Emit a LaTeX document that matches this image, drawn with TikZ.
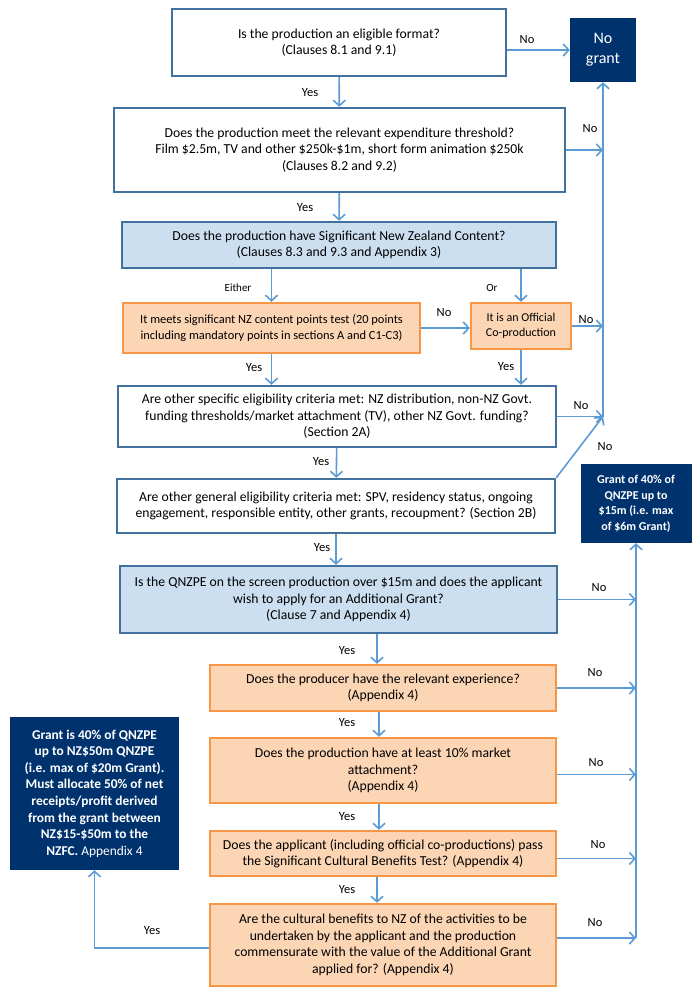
\documentclass[tikz,border=0pt]{standalone}
\usepackage{fontspec}
\setmainfont{Carlito}
\usetikzlibrary{arrows.meta}

\definecolor{boxline}{HTML}{41719C}
\definecolor{arrowblue}{HTML}{5B9BD5}
\definecolor{paleblue}{HTML}{CCDFF1}
\definecolor{peach}{HTML}{FCD5B5}
\definecolor{orangeline}{HTML}{F79646}
\definecolor{navy}{HTML}{00336E}

\begin{document}
\begin{tikzpicture}[x=1pt, y=-1pt,
    qbox/.style={draw=boxline, line width=2.4pt, fill=white, align=center, inner sep=2pt,
        font=\fontsize{13.7}{16.5}\selectfont},
    bluebox/.style={qbox, fill=paleblue},
    orangebox/.style={qbox, draw=orangeline, fill=peach},
    navybox/.style={fill=navy, text=white, align=center, inner sep=2pt},
    arr/.style={draw=arrowblue, line width=1.6pt, -{Straight Barb[length=5.5pt,width=12pt]}},
    lbl/.style={font=\fontsize{12.5}{14}\selectfont, inner sep=0pt},
    small/.style={font=\fontsize{11}{13}\selectfont, inner sep=0pt}]
    \useasboundingbox (0,0) rectangle (700,1000);

    % question boxes
    \node[qbox, minimum width=334, minimum height=67] (q1) at (339,42.5)
        {Is the production an eligible format?\\(Clauses 8.1 and 9.1)};
    \node[qbox, minimum width=451, minimum height=84] (q2) at (339.5,150)
        {Does the production meet the relevant expenditure threshold?\\Film \$2.5m, TV and other \$250k-\$1m, short form animation \$250k\\(Clauses 8.2 and 9.2)};
    \node[bluebox, minimum width=434, minimum height=46] (q3) at (339,245)
        {Does the production have Significant New Zealand Content?\\(Clauses 8.3 and 9.3 and Appendix 3)};
    \node[orangebox, minimum width=297, minimum height=50, font=\fontsize{12.4}{15.5}\selectfont] (qa) at (271.5,328)
        {It meets significant NZ content points test (20 points\\including mandatory points in sections A and C1-C3)};
    \node[orangebox, minimum width=100, minimum height=46, font=\fontsize{12}{15}\selectfont] (qb) at (521,326)
        {It is an Official\\Co-production};
    \node[qbox, minimum width=438, minimum height=61] (q4) at (337,416.5)
        {Are other specific eligibility criteria met: NZ distribution, non-NZ Govt.\\funding thresholds/market attachment (TV), other NZ Govt. funding?\\(Section 2A)};
    \node[qbox, minimum width=438, minimum height=54] (q5) at (336,506)
        {Are other general eligibility criteria met: SPV, residency status, ongoing\\engagement, responsible entity, other grants, recoupment? (Section 2B)};
    \node[bluebox, minimum width=437, minimum height=67] (q6) at (338.5,599.5)
        {Is the QNZPE on the screen production over \$15m and does the applicant\\wish to apply for an Additional Grant?\\(Clause 7 and Appendix 4)};
    \node[orangebox, minimum width=346, minimum height=46] (q7) at (383,688)
        {Does the producer have the relevant experience?\\(Appendix 4)};
    \node[orangebox, minimum width=346, minimum height=65] (q8) at (383,770.5)
        {Does the production have at least 10\% market\\attachment?\\(Appendix 4)};
    \node[orangebox, minimum width=346, minimum height=45] (q9) at (383,853.5)
        {Does the applicant (including official co-productions) pass\\the Significant Cultural Benefits Test? (Appendix 4)};
    \node[orangebox, minimum width=346, minimum height=82] (q10) at (383,945)
        {Are the cultural benefits to NZ of the activities to be\\undertaken by the applicant and the production\\commensurate with the value of the Additional Grant\\applied for? (Appendix 4)};

    % outcomes
    \node[navybox, minimum width=66, minimum height=64, font=\fontsize{16}{20}\selectfont] (nogrant) at (603,50)
        {No\\grant};
    \node[navybox, minimum width=111, minimum height=79, font=\bfseries\fontsize{12}{15.5}\selectfont] (grant1) at (636,503.5)
        {Grant of 40\% of\\QNZPE up to\\\$15m (i.e. max\\of \$6m Grant)};
    \node[navybox, minimum width=169, minimum height=153, font=\fontsize{13.4}{16.6}\selectfont] (grant2) at (94.5,793.5)
        {\textbf{Grant is 40\% of QNZPE}\\\textbf{up to NZ\$50m QNZPE}\\\textbf{(i.e. max of \$20m Grant).}\\\textbf{Must allocate 50\% of net}\\\textbf{receipts/profit derived}\\\textbf{from the grant between}\\\textbf{NZ\$15-\$50m to the}\\\textbf{NZFC.} Appendix 4};

    % rails
    \coordinate (rail1) at (q4.east -| nogrant.south);
    \coordinate (rail2) at (q10.east -| grant1.south);
    \draw[arr] (rail1) -- (nogrant.south);
    \draw[arr] ([yshift=7pt]rail2) -- (grant1.south);

    % yes path
    \draw[arr] (q1) -- (q2);
    \draw[arr] (q2) -- (q3);
    \draw[arr] (qa.north |- q3.south) -- (qa.north);
    \draw[arr] (qb.north |- q3.south) -- (qb.north);
    \draw[arr] (qa.south) -- (qa.south |- q4.north);
    \draw[arr] (qb.south) -- (qb.south |- q4.north);
    \draw[arr] (q4) -- (q5);
    \draw[arr] (q5.south) -- (q5.south |- q6.north);
    \draw[arr] ([xshift=-6pt]q7.north |- q6.south) -- ([xshift=-6pt]q7.north);
    \draw[arr] ([xshift=-4pt]q7.south) -- ([xshift=-4pt]q8.north);
    \draw[arr] ([xshift=-4pt]q8.south) -- ([xshift=-4pt]q9.north);
    \draw[arr] ([xshift=-6pt]q9.south) -- ([xshift=-6pt]q10.north);
    \draw[arr] ([yshift=-3pt]q10.west) -| (grant2.south);

    % no path
    \draw[arr] (q1.east |- nogrant.west) -- (nogrant.west);
    \draw[arr] (q2.east) -- (q2.east -| rail1);
    \draw[arr] (qa.east) -- (qa.east -| qb.west);
    \draw[arr] (qb.east) -- (qb.east -| rail1);
    \draw[arr] (q4.east) -- (rail1);
    \draw[arr] (q5.north east) -- (rail1);
    \draw[arr] (q6.east) -- (q6.east -| rail2);
    \draw[arr] (q7.east) -- (q7.east -| rail2);
    \draw[arr] ([yshift=-4pt]q8.east) -- ([yshift=-4pt]q8.east -| rail2);
    \draw[arr] ([yshift=-5pt]q9.east) -- ([yshift=-5pt]q9.east -| rail2);
    \draw[arr] ([yshift=7pt]q10.east) -- ([yshift=7pt]q10.east -| rail2);

    % labels
    \node[lbl] (no1) at (527,40) {No};
    \node[lbl] (yes1) at (310,93) {Yes};
    \node[lbl] (no2) at (590,129) {No};
    \node[lbl] (yes2) at (305,208) {Yes};
    \node[small] (either) at (238,288) {Either};
    \node[small] (or) at (492,288) {Or};
    \node[lbl] (no3) at (444,313) {No};
    \node[lbl] (no4) at (586,320) {No};
    \node[lbl] (yes3) at (254,368) {Yes};
    \node[lbl] (yes4) at (506,367) {Yes};
    \node[lbl] (no5) at (581,406) {No};
    \node[lbl] (no6) at (605,447) {No};
    \node[lbl] (yes5) at (321,462) {Yes};
    \node[lbl] (yes6) at (322,548) {Yes};
    \node[lbl] (no7) at (599,588) {No};
    \node[lbl] (yes7) at (347,651) {Yes};
    \node[lbl] (no8) at (595,673) {No};
    \node[lbl] (yes8) at (347,723) {Yes};
    \node[lbl] (no9) at (596,763) {No};
    \node[lbl] (yes9) at (347,817) {Yes};
    \node[lbl] (no10) at (598,845) {No};
    \node[lbl] (yes10) at (347,890) {Yes};
    \node[lbl] (no11) at (595,923) {No};
    \node[lbl] (yes11) at (152,931) {Yes};
\end{tikzpicture}
\end{document}
